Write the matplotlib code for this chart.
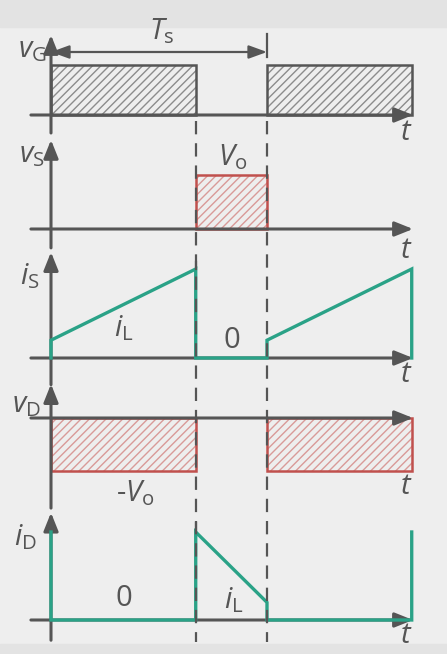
import matplotlib.pyplot as plt
from matplotlib.patches import Rectangle

plt.rcParams.update({
    'font.family': ['Open Sans', 'DejaVu Sans'],
    'mathtext.fontset': 'custom',
    'mathtext.rm': 'Open Sans',
    'mathtext.it': 'Open Sans:italic',
    'mathtext.bf': 'Open Sans:bold',
    'hatch.linewidth': 1.0,
})

# ---- waveform data (time in units of Ts) ----
D = 0.67          # duty ratio
Ts = 1.0
iL_min, iL_max = 0.2, 1.0

vg_spans = [(0, D), (Ts, Ts + D)]     # gate on
vs_spans = [(D, Ts)]                  # switch voltage = Vo when off
vd_spans = [(0, D), (Ts, Ts + D)]     # diode voltage = -Vo when on
t_sw = [0, 0, D, D, Ts, Ts, Ts + D, Ts + D]
is_vals = [0, iL_min, iL_max, 0, 0, iL_min, iL_max, 0]
id_vals = [iL_max, 0, 0, iL_max, iL_min, 0, 0, iL_max]

# ---- style ----
AX = '#555555'
GREEN = '#2aa287'
RED = '#c0504d'
RED_H = '#d99a98'
GRAY_H = '#8c8c8c'
BG = '#eeeeee'
STRIP = '#e3e3e3'
FS = 21

W, H = 447, 654
X0, X1 = -51 / 216, 396 / 216
T_START, T_END = -0.093, 1.676

fig = plt.figure(figsize=(W / 100, H / 100), dpi=100, facecolor=BG)
fig.patches.append(Rectangle((0, 1 - 27 / H), 1, 27 / H, transform=fig.transFigure,
                             color=STRIP, zorder=-1))
fig.patches.append(Rectangle((0, 0), 1, 10 / H, transform=fig.transFigure,
                             color=STRIP, zorder=-1))


def panel(base, scale, top, bot):
    ax = fig.add_axes([0, 1 - bot / H, 1, (bot - top) / H])
    ax.set_xlim(X0, X1)
    ax.set_ylim((base - bot) / scale, (base - top) / scale)
    ax.axis('off')
    return ax


def arrow(ax, start, end, style='-|>,head_length=0.55,head_width=0.22', lw=2.2):
    ax.annotate('', xy=end, xytext=start,
                arrowprops=dict(arrowstyle=style, lw=lw, color=AX,
                                mutation_scale=20, shrinkA=0, shrinkB=0),
                annotation_clip=False, zorder=2)


def axes_arrows(ax, vtip, vbot):
    arrow(ax, (T_START, 0), (T_END, 0))
    arrow(ax, (0, vbot), (0, vtip))


def pulses(ax, spans, level, edge, hatch_col):
    for a, b in spans:
        ax.add_patch(Rectangle((a, 0), b - a, level, facecolor='none',
                               edgecolor=hatch_col, hatch='////', lw=0, zorder=1))
        ax.add_patch(Rectangle((a, 0), b - a, level, facecolor='none',
                               edgecolor=edge, lw=1.8, zorder=1))


def label(ax, s, t, v, size=FS):
    ax.text(t, v, s, fontsize=size, color=AX, ha='center', va='center')


# panel 1: v_G
ax1 = panel(115, 50, 28, 140)
pulses(ax1, vg_spans, 1, AX, GRAY_H)
axes_arrows(ax1, 1.6, -0.36)
arrow(ax1, (0, 1.26), (Ts, 1.26),
      style='<|-|>,head_length=0.55,head_width=0.2', lw=1.6)
ax1.plot([Ts, Ts], [1.16, 1.62], color=AX, lw=1.6)
label(ax1, r'$v_{\mathrm{G}}$', -0.085, 1.30)
label(ax1, r'$T_{\mathrm{s}}$', 0.51, 1.68)
label(ax1, r'$t$', 1.644, -0.34)

# panel 2: v_S
ax2 = panel(229, 54, 140, 255)
pulses(ax2, vs_spans, 1, RED, RED_H)
axes_arrows(ax2, 1.65, -0.35)
label(ax2, r'$v_{\mathrm{S}}$', -0.09, 1.38)
label(ax2, r'$V_{\mathrm{o}}$', 0.84, 1.33)
label(ax2, r'$t$', 1.644, -0.39)

# panel 3: i_S
ax3 = panel(358, 89, 250, 390)
axes_arrows(ax3, 1.19, -0.30)
ax3.plot(t_sw, is_vals, color=GREEN, lw=2.4, zorder=3, solid_joinstyle='miter')
ax3.plot([D, D], [iL_max, 1.08], color=AX, lw=1.6, zorder=3)
label(ax3, r'$i_{\mathrm{S}}$', -0.10, 0.92)
label(ax3, r'$i_{\mathrm{L}}$', 0.335, 0.33)
label(ax3, '0', 0.838, 0.2)
label(ax3, r'$t$', 1.644, -0.18)

# panel 4: v_D
ax4 = panel(418, 53, 380, 515)
pulses(ax4, vd_spans, -1, RED, RED_H)
axes_arrows(ax4, 0.64, -1.70)
label(ax4, r'$v_{\mathrm{D}}$', -0.115, 0.26)
label(ax4, r'-$V_{\mathrm{o}}$', 0.39, -1.42)
label(ax4, r'$t$', 1.644, -1.30)

# panel 5: i_D
ax5 = panel(620, 88, 510, 644)
axes_arrows(ax5, 1.22, -0.23)
ax5.plot(t_sw, id_vals, color=GREEN, lw=2.4, zorder=3, solid_joinstyle='miter')
ax5.plot([D, D], [iL_max, 1.1], color=AX, lw=1.6, zorder=3)
label(ax5, r'$i_{\mathrm{D}}$', -0.12, 0.94)
label(ax5, '0', 0.338, 0.24)
label(ax5, r'$i_{\mathrm{L}}$', 0.845, 0.22)
label(ax5, r'$t$', 1.644, -0.18)

# dashed switching instants across all panels
ov = fig.add_axes([0, 0, 1, 1])
ov.set_xlim(X0, X1)
ov.set_ylim(H, 0)
ov.axis('off')
ov.vlines([D, Ts], 121, 642, colors=AX, lw=1.6, linestyles=(0, (6, 4)))

fig.savefig('out.png', dpi=100, facecolor=fig.get_facecolor())
